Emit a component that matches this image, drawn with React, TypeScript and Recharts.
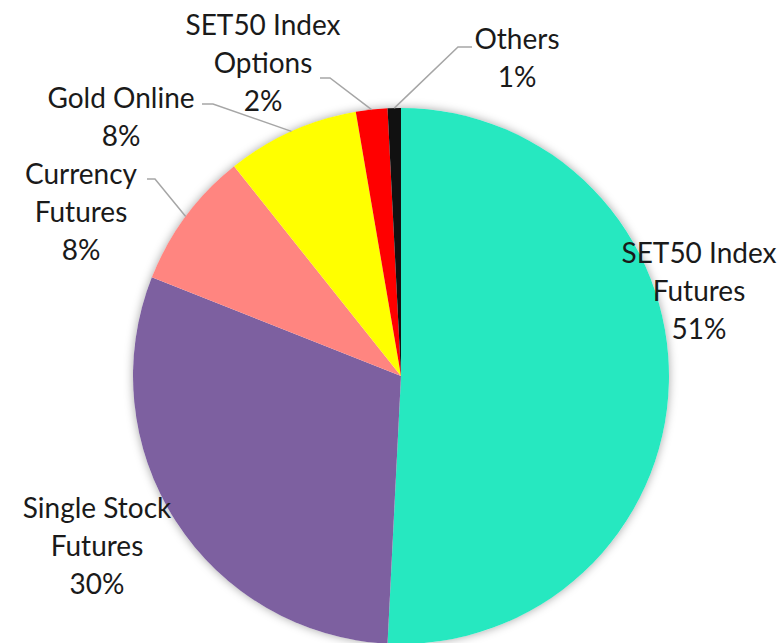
import { PieChart, Pie, Cell } from "recharts";

// derivatives volume share
const CATEGORIES = [
  "SET50 Index Futures",
  "Single Stock Futures",
  "Currency Futures",
  "Gold Online",
  "SET50 Index Options",
  "Others",
];
const SHARES = [50.8, 30.2, 8.3, 8.0, 1.9, 0.8];
const LABEL_LINES = [
  ["SET50 Index", "Futures"],
  ["Single Stock", "Futures"],
  ["Currency", "Futures"],
  ["Gold Online"],
  ["SET50 Index", "Options"],
  ["Others"],
];

const COLORS = ["#26E8C0", "#7D60A0", "#FF8580", "#FFFF00", "#FF0000", "#111111"];
const LEADER = "#A6A6A6";
const FONT = "Lato, 'Open Sans', sans-serif";
const FONT_SIZE = 28;
const LINE_H = 38;

// label placement relative to pie centre: text centre of first line, optional leader start/elbow
const LABEL_LAYOUT: { dx: number; dy: number; leader?: [number, number, number, number] }[] = [
  { dx: 298, dy: -124 },
  { dx: -304, dy: 131 },
  { dx: -320, dy: -203, leader: [-254, -197, -246, -197] },
  { dx: -280, dy: -279, leader: [-199, -272, -188, -272] },
  { dx: -138, dy: -352, leader: [-81, -298, -71, -298] },
  { dx: 116, dy: -338, leader: [71, -329, 57, -329] },
];

const data = CATEGORIES.map((name, i) => ({ name, value: SHARES[i] }));
const total = SHARES.reduce((s, v) => s + v, 0);
const backdrop = [{ name: "all", value: total }];

const RAD = Math.PI / 180;

function renderLabel(props: any) {
  const { cx, cy, midAngle, outerRadius, index, value } = props;
  const layout = LABEL_LAYOUT[index];
  const lines = [...LABEL_LINES[index], `${Math.round((value / total) * 100)}%`];
  const ex = cx + outerRadius * Math.cos(-midAngle * RAD);
  const ey = cy + outerRadius * Math.sin(-midAngle * RAD);
  return (
    <g key={`lbl-${index}`}>
      {layout.leader && (
        <polyline
          points={`${cx + layout.leader[0]},${cy + layout.leader[1]} ${cx + layout.leader[2]},${
            cy + layout.leader[3]
          } ${ex},${ey}`}
          fill="none"
          stroke={LEADER}
          strokeWidth={1.5}
        />
      )}
      <text
        x={cx + layout.dx}
        y={cy + layout.dy}
        textAnchor="middle"
        dominantBaseline="central"
        fontFamily={FONT}
        fontSize={FONT_SIZE}
        fill="#1a1a1a"
      >
        {lines.map((t, i) => (
          <tspan key={i} x={cx + layout.dx} dy={i === 0 ? 0 : LINE_H}>
            {t}
          </tspan>
        ))}
      </text>
    </g>
  );
}

export default function App() {
  return (
    <div style={{ position: "fixed", left: 0, top: 0, width: 783, height: 643, background: "#fff" }}>
      <PieChart width={783} height={643} margin={{ top: 0, right: 0, bottom: 0, left: 0 }}>
        <Pie
          data={backdrop}
          dataKey="value"
          cx={401}
          cy={376}
          outerRadius={268}
          startAngle={90}
          endAngle={-270}
          stroke="none"
          isAnimationActive={false}
        >
          <Cell fill="#ffffff" style={{ filter: "drop-shadow(0px 0px 5px rgba(0,0,0,0.35))" }} />
        </Pie>
        <Pie
          data={data}
          dataKey="value"
          nameKey="name"
          cx={401}
          cy={376}
          outerRadius={268}
          startAngle={90}
          endAngle={-270}
          stroke="none"
          label={renderLabel}
          labelLine={false}
          isAnimationActive={false}
        >
          {data.map((d, i) => (
            <Cell key={d.name} fill={COLORS[i]} />
          ))}
        </Pie>
      </PieChart>
    </div>
  );
}
